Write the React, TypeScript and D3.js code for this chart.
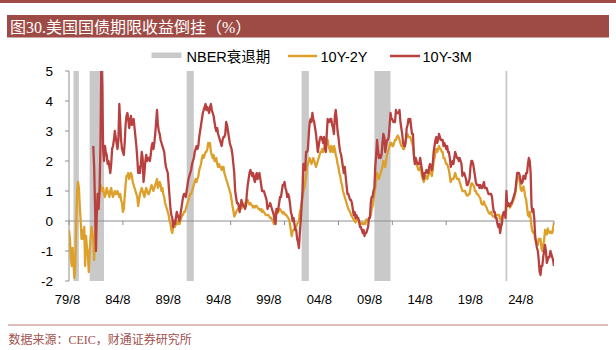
import React from "react";
import * as d3 from "d3";

const START_MONTH = "1979-08";
const xTickLabels = ["79/8", "84/8", "89/8", "94/8", "99/8", "04/8", "09/8", "14/8", "19/8", "24/8"];
const yTicks = [-2, -1, 0, 1, 2, 3, 4, 5];
const legendNames = ["NBER衰退期", "10Y-2Y", "10Y-3M"];

const recessions: [string, string][] = [
  ["1980-01", "1980-07"],
  ["1981-07", "1982-11"],
  ["1990-07", "1991-03"],
  ["2001-03", "2001-11"],
  ["2007-12", "2009-06"],
  ["2020-02", "2020-04"],
];

// monthly, 1979-08 .. 2024-08
const spread10y2y: number[] = [
  -0.3, -0.6, -1.2, -1.5, -0.9,
  -1.4, -1.9, -1.5, -0.2, 1.0, 1.3, 1.1, 0.5, 0.0, -0.6, -0.3, -0.6,
  -0.2, -1.5, -0.5, -0.9, -1.1, -1.7, -1.0, -0.6, -0.2, -0.4, -0.6, -1.3,
  -0.5, 0.4, 0.2, 0.9, 0.7, 1.0, 1.2, 1.1, 1.0, 1.1, 0.9, 0.8,
  0.9, 1.1, 1.0, 0.9, 0.8, 1.0, 1.1, 0.9, 0.8, 0.9, 1.0, 0.9,
  0.9, 1.0, 0.9, 0.8, 0.9, 0.7, 0.6, 0.3, 0.4, 0.8, 1.2, 1.5,
  1.5, 1.6, 1.4, 1.5, 1.6, 1.5, 1.3, 1.2, 1.1, 1.0, 0.9, 0.8,
  0.5, 0.7, 0.9, 1.0, 1.1, 1.0, 0.9, 0.8, 1.0, 1.1, 1.0, 0.9,
  0.9, 1.0, 1.1, 1.2, 1.1, 1.0, 1.1, 1.2, 1.3, 1.4, 1.1, 1.2,
  1.3, 1.2, 1.0, 1.1, 0.9, 0.8, 0.6, 0.5, 0.4, 0.3, 0.2, 0.0,
  -0.1, -0.3, -0.4, -0.2, -0.1, -0.2, -0.1, 0.0, -0.1, 0.0, -0.1, 0.0,
  0.1, 0.2, 0.2, 0.3, 0.3, 0.4, 0.5, 0.6, 0.7, 0.8, 0.9, 0.9,
  1.0, 1.1, 1.2, 1.3, 1.4, 1.3, 1.4, 1.5, 1.7, 1.8, 1.9, 2.1,
  2.2, 2.1, 2.2, 2.3, 2.3, 2.4, 2.6, 2.5, 2.6, 2.3, 2.2, 2.1,
  2.2, 2.0, 2.0, 2.1, 1.9, 1.8, 1.9, 1.8, 1.8, 1.7, 1.8, 1.8,
  1.6, 1.5, 1.4, 1.3, 1.2, 1.1, 1.0, 0.9, 0.7, 0.5, 0.35, 0.15,
  0.2, 0.3, 0.35, 0.4, 0.45, 0.35, 0.4, 0.5, 0.45, 0.5, 0.55, 0.6,
  0.6, 0.65, 0.7, 0.6, 0.55, 0.6, 0.55, 0.5, 0.45, 0.5, 0.45, 0.5,
  0.5, 0.45, 0.4, 0.4, 0.35, 0.4, 0.3, 0.35, 0.3, 0.25, 0.2, 0.2,
  0.2, 0.2, 0.15, 0.1, 0.1, 0.05, 0.0, -0.1, 0.1, 0.3, 0.3, 0.25,
  0.3, 0.35, 0.4, 0.35, 0.3, 0.25, 0.3, 0.25, 0.2, 0.2, 0.15, 0.1,
  0.05, -0.1, -0.3, -0.5, -0.35, -0.3, -0.25, -0.3, -0.2, -0.1, -0.05, 0.0,
  0.3, 0.4, 0.6, 0.8, 1.0, 1.1, 1.3, 1.5, 1.8, 1.9, 2.0, 2.1,
  2.0, 1.9, 2.0, 2.1, 2.0, 1.9, 1.8, 1.9, 2.0, 2.1, 2.2, 2.3,
  2.3, 2.4, 2.3, 2.4, 2.5, 2.5, 2.6, 2.7, 2.5, 2.4, 2.3, 2.5,
  2.4, 2.3, 2.5, 2.4, 2.2, 2.1, 1.9, 1.8, 1.6, 1.5, 1.3, 1.2,
  1.0, 0.9, 0.8, 0.7, 0.6, 0.5, 0.4, 0.35, 0.3, 0.2, 0.15, 0.1,
  0.05, 0.0, -0.05, 0.1, 0.05, 0.0, -0.05, -0.1, -0.1, -0.05, -0.1, -0.1,
  -0.05, -0.1, 0.05, 0.0, 0.0, 0.1, 0.1, 0.2, 0.4, 0.5, 0.7, 0.9,
  1.1, 1.4, 1.6, 1.5, 1.4, 1.5, 1.6, 1.7, 1.8, 2.0, 1.9, 1.8,
  2.0, 2.2, 2.3, 2.4, 2.5, 2.6, 2.6, 2.5, 2.5, 2.6, 2.7, 2.7,
  2.8, 2.85, 2.8, 2.7, 2.6, 2.5, 2.5, 2.4, 2.4, 2.5, 2.7, 2.8,
  2.9, 2.8, 2.8, 2.8, 2.7, 2.6, 2.5, 2.2, 2.0, 1.9, 1.9, 1.8,
  1.7, 1.7, 1.8, 1.7, 1.5, 1.4, 1.3, 1.4, 1.5, 1.5, 1.4, 1.5,
  1.6, 1.7, 1.6, 1.5, 1.7, 2.0, 2.1, 2.3, 2.4, 2.3, 2.4, 2.5,
  2.4, 2.4, 2.3, 2.3, 2.1, 2.1, 2.0, 1.9, 1.9, 1.8, 1.7, 1.5,
  1.3, 1.4, 1.4, 1.4, 1.5, 1.6, 1.5, 1.4, 1.4, 1.4, 1.3, 1.2,
  1.1, 1.0, 1.0, 1.0, 1.0, 0.9, 0.85, 0.85, 0.9, 0.9, 1.1, 1.25,
  1.25, 1.2, 1.15, 1.0, 1.0, 0.9, 0.9, 0.85, 0.8, 0.75, 0.6, 0.55,
  0.55, 0.65, 0.55, 0.5, 0.45, 0.35, 0.3, 0.25, 0.25, 0.3, 0.2, 0.15,
  0.15, 0.15, 0.15, 0.2, 0.2, 0.2, 0.2, 0.05, 0.05, 0.15, 0.2, 0.25,
  0.2, 0.2, 0.45, 0.5, 0.5, 0.5, 0.45, 0.5, 0.55, 0.65, 0.7, 0.8,
  0.95, 1.2, 1.5, 1.45, 1.45, 1.3, 1.05, 1.0, 1.1, 1.15, 1.0, 0.8,
  0.7, 0.45, 0.2, 0.15, 0.3, 0.1, -0.2, -0.35, -0.4, -0.35, -0.6, -0.7,
  -0.7, -0.8, -0.6, -0.6, -0.6, -0.9, -1.0, -0.8, -0.65, -0.3, -0.4, -0.45,
  -0.25, -0.35, -0.4, -0.35, -0.4, -0.4, -0.25, -0.05,
];

const N = null;
const spread10y3m: (number | null)[] = [
  N, N, N, N, N,
  N, N, N, N, N, N, N, N, N, N, N, N,
  N, N, N, N, N, N, N, N, N, N, 2.5, 1.8,
  0.5, -1.0, 0.3, 0.9, 0.4, 1.0, 2.5, 5.3, 4.5, 2.4, 2.0, 2.5,
  2.3, 2.2, 1.9, 2.0, 1.8, 1.6, 1.9, 2.4, 2.5, 2.7, 3.0, 2.8,
  2.6, 2.4, 2.7, 3.9, 3.3, 2.7, 2.4, 2.3, 2.2, 2.6, 3.2, 3.5,
  3.6, 3.4, 3.1, 3.3, 3.5, 3.2, 3.3, 3.4, 3.1, 2.8, 2.5, 2.1,
  1.6, 1.8, 1.6, 1.9, 2.3, 2.1, 1.3, 1.6, 2.0, 2.2, 2.0, 2.1,
  2.1, 2.0, 2.2, 2.5, 2.6, 2.4, 2.6, 2.9, 3.3, 3.7, 3.2, 3.0,
  2.9, 2.7, 2.6, 2.5, 2.4, 2.3, 2.0, 1.8, 1.7, 1.6, 1.2, 0.8,
  0.4, 0.2, 0.1, -0.2, 0.0, -0.1, 0.1, 0.3, 0.2, 0.1, 0.0, 0.2,
  0.4, 0.6, 0.8, 0.9, 0.9, 0.8, 1.0, 1.2, 1.4, 1.5, 1.6, 1.7,
  1.9, 2.0, 2.1, 2.3, 2.4, 2.5, 2.4, 2.5, 2.8, 3.0, 3.2, 3.4,
  3.6, 3.7, 3.8, 3.9, 3.7, 3.8, 3.7, 3.6, 3.8, 3.9, 3.7, 3.6,
  3.5, 3.3, 3.1, 3.0, 3.1, 2.9, 2.8, 2.7, 2.6, 2.5, 2.7, 2.8,
  2.8, 2.9, 3.3, 3.2, 3.0, 2.8, 2.6, 2.5, 2.4, 2.2, 1.9, 1.6,
  1.0, 0.8, 0.6, 0.6, 0.5, 0.3, 0.5, 0.7, 0.6, 0.5, 0.5, 0.4,
  0.5, 0.9, 1.2, 1.4, 1.6, 1.7, 1.6, 1.5, 1.6, 1.4, 1.3, 1.5,
  1.6, 1.4, 1.5, 1.6, 1.4, 1.2, 1.0, 1.0, 1.0, 0.9, 0.8, 0.7,
  0.4, 0.5, 0.5, 0.6, 0.5, 0.4, 0.3, 0.2, 0.0, -0.1, 0.4, 0.3,
  0.4, 0.6, 0.8, 0.8, 1.0, 1.2, 1.2, 1.3, 1.1, 1.0, 0.8, 0.9,
  0.8, 0.6, 0.3, 0.2, 0.0, 0.1, -0.1, -0.3, -0.3, -0.6, -0.7, -0.9,
  -0.4, 0.0, 0.5, 1.0, 1.9, 1.7, 1.7, 2.3, 2.3, 2.4, 2.9, 3.3,
  3.4, 3.3, 3.6, 3.4, 3.3, 3.1, 2.9, 2.6, 2.3, 2.5, 2.7, 2.8,
  2.8, 2.7, 2.6, 2.8, 2.4, 2.3, 2.9, 3.4, 3.3, 3.3, 3.4, 3.4,
  3.2, 3.1, 2.9, 3.5, 3.7, 3.4, 3.0, 2.8, 2.5, 2.3, 2.2, 2.0,
  1.8, 1.6, 1.8, 1.5, 1.2, 0.9, 0.9, 0.8, 0.7, 0.7, 0.6, 0.4,
  0.2, 0.3, 0.1, 0.2, 0.1, 0.1, 0.0, -0.2, -0.2, -0.3, -0.4, -0.3,
  -0.5, -0.4, -0.4, -0.3, -0.2, 0.1, 0.1, 0.6, 0.8, 0.8, 1.0, 1.1,
  1.8, 2.2, 2.7, 2.4, 2.1, 2.2, 2.1, 2.2, 2.6, 2.9, 2.8, 2.3,
  2.5, 2.7, 2.7, 2.8, 3.2, 3.6, 3.4, 3.4, 3.3, 3.3, 3.3, 3.7,
  3.6, 3.6, 3.6, 3.7, 3.3, 3.1, 2.9, 2.6, 2.5, 2.5, 2.7, 3.1,
  3.2, 3.4, 3.3, 3.4, 3.1, 2.9, 2.9, 2.2, 1.9, 2.1, 2.0, 1.9,
  1.9, 1.9, 2.1, 1.9, 1.7, 1.5, 1.4, 1.6, 1.6, 1.7, 1.6, 1.6,
  1.8, 1.9, 1.8, 1.7, 1.9, 2.3, 2.5, 2.7, 2.8, 2.6, 2.7, 2.9,
  2.8, 2.7, 2.7, 2.7, 2.5, 2.6, 2.5, 2.4, 2.5, 2.3, 2.3, 2.1,
  1.8, 1.9, 2.0, 1.9, 2.1, 2.3, 2.2, 2.1, 2.1, 2.0, 2.1, 2.0,
  1.9, 1.5, 1.6, 1.6, 1.5, 1.4, 1.2, 1.2, 1.3, 1.4, 1.8, 2.0,
  2.0, 1.9, 1.7, 1.5, 1.3, 1.2, 1.2, 1.2, 1.1, 1.2, 1.1, 1.1,
  1.2, 1.3, 1.1, 1.1, 1.1, 1.0, 0.9, 0.9, 0.9, 0.9, 0.8, 0.5,
  0.3, 0.3, 0.1, 0.1, -0.1, -0.2, -0.1, -0.4, -0.2, -0.1, 0.2, 0.3,
  0.3, 0.1, 1.0, 0.5, 0.6, 0.5, 0.5, 0.6, 0.6, 0.7, 0.8, 0.9,
  1.0, 1.3, 1.6, 1.6, 1.6, 1.5, 1.3, 1.25, 1.3, 1.5, 1.5, 1.4,
  1.6, 1.6, 1.9, 2.1, 2.0, 1.6, 0.5, 0.3, 0.4, 0.1, -0.5, -0.7,
  -0.9, -1.0, -1.3, -1.7, -1.8, -1.5, -1.5, -1.2, -1.0, -0.8, -1.0, -1.4,
  -1.3, -1.2, -1.2, -1.0, -1.1, -1.2, -1.3, -1.5,
];

const COLOR_BAR = "#9E4B46";
const COLOR_2Y = "#DDA02A";
const COLOR_3M = "#B8413F";
const COLOR_REC = "#C9C9C9";
const COLOR_AXIS = "#8E8E8E";

function monthIndex(s: string): number {
  const [yy, mm] = s.split("-").map(Number);
  const [y0, m0] = START_MONTH.split("-").map(Number);
  return (yy - y0) * 12 + (mm - m0);
}

export default function App() {
  const W = 616;
  const H = 350;
  const nMonths = spread10y2y.length - 1;
  const x = d3.scaleLinear().domain([0, nMonths]).range([69, 554]);
  const y = d3.scaleLinear().domain([-2, 5]).range([281, 71]);
  const xLab = d3.scalePoint<string>().domain(xTickLabels).range([67.5, 520.8]);

  const line = d3
    .line<number | null>()
    .defined((d) => d != null)
    .x((_, i) => x(i))
    .y((d) => y(d as number));

  const xTickIdx = d3.range(0, nMonths + 1, 60);
  const latin = "'Liberation Sans', Arial, sans-serif";
  const cjk = "'Liberation Sans', 'Noto Sans CJK SC', sans-serif";
  const serifCjk = "'Liberation Serif', 'Noto Sans CJK SC', serif";

  return (
    <svg
      width={W}
      height={H}
      style={{ position: "absolute", left: 0, top: 0, background: "#fff" }}
    >
      <defs>
        <clipPath id="plotClip">
          <rect x={69} y={y(5)} width={x(nMonths) - 69} height={y(-2) - y(5)} />
        </clipPath>
      </defs>
      <rect x={0} y={0} width={W} height={H} fill="#fff" />
      <rect x={0} y={0} width={W} height={3} fill={COLOR_BAR} />
      <rect x={7} y={15} width={602} height={22.5} fill={COLOR_BAR} />
      <text x={10} y={32.5} fill="#fff" fontSize={16} fontFamily={serifCjk}>
        图30.美国国债期限收益倒挂（%）
      </text>

      <rect x={151.5} y={52.5} width={30} height={5.5} fill={COLOR_REC} />
      <text x={186.5} y={61.5} fontSize={14.5} fontFamily={cjk} fill="#000">
        {legendNames[0]}
      </text>
      <line x1={288} x2={317} y1={56} y2={56} stroke={COLOR_2Y} strokeWidth={2.5} />
      <text x={320.5} y={61.5} fontSize={14.5} fontFamily={latin} fill="#000">
        {legendNames[1]}
      </text>
      <line x1={390} x2={420} y1={56} y2={56} stroke={COLOR_3M} strokeWidth={2.5} />
      <text x={422.5} y={61.5} fontSize={14.5} fontFamily={latin} fill="#000">
        {legendNames[2]}
      </text>

      {recessions.map(([s, e], k) => {
        const x0 = x(monthIndex(s));
        const x1 = x(monthIndex(e));
        return (
          <rect
            key={k}
            x={x0}
            y={y(5)}
            width={Math.max(x1 - x0, 1.8)}
            height={y(-2) - y(5)}
            fill={COLOR_REC}
          />
        );
      })}

      <line x1={69} x2={69} y1={y(5)} y2={y(-2)} stroke={COLOR_AXIS} strokeWidth={1} />
      {yTicks.map((t) => (
        <g key={t}>
          <line x1={65} x2={69} y1={y(t)} y2={y(t)} stroke={COLOR_AXIS} strokeWidth={1} />
          <text
            x={53}
            y={y(t) + 4.8}
            textAnchor="end"
            fontSize={13.5}
            fontFamily={latin}
            fill="#000"
          >
            {t}
          </text>
        </g>
      ))}

      <line x1={69} x2={x(nMonths)} y1={y(0)} y2={y(0)} stroke={COLOR_AXIS} strokeWidth={1} />
      {xTickIdx.map((i) => (
        <line
          key={i}
          x1={x(i)}
          x2={x(i)}
          y1={y(0)}
          y2={y(0) + 4}
          stroke={COLOR_AXIS}
          strokeWidth={1}
        />
      ))}
      {xTickLabels.map((l) => (
        <text
          key={l}
          x={xLab(l)}
          y={303.5}
          textAnchor="middle"
          fontSize={13}
          fontFamily={latin}
          fill="#000"
        >
          {l}
        </text>
      ))}

      <g clipPath="url(#plotClip)">
        <path
          d={line(spread10y2y) || ""}
          fill="none"
          stroke={COLOR_2Y}
          strokeWidth={2.3}
          strokeLinejoin="round"
        />
        <path
          d={line(spread10y3m) || ""}
          fill="none"
          stroke={COLOR_3M}
          strokeWidth={2.3}
          strokeLinejoin="round"
        />
      </g>

      <line x1={8} x2={608} y1={325} y2={325} stroke="#D6A9A6" strokeWidth={1.5} />
      <text x={8.5} y={344} fontSize={12} fontFamily={serifCjk} fill="#A0524D">
        数据来源：CEIC，财通证券研究所
      </text>
    </svg>
  );
}
